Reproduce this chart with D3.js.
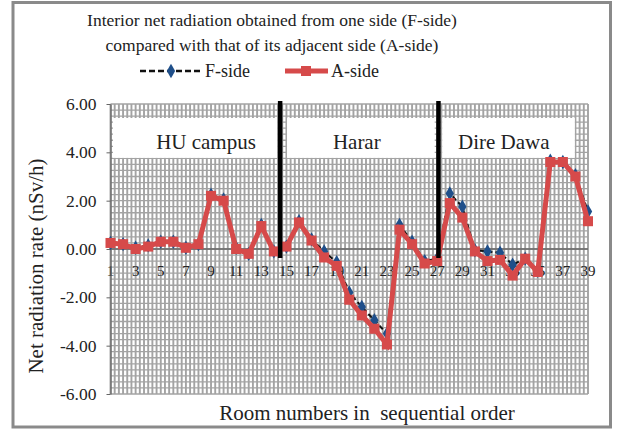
<!DOCTYPE html>
<html><head><meta charset="utf-8">
<script src="https://cdn.jsdelivr.net/npm/d3@7/dist/d3.min.js"></script>
<style>body{margin:0;background:#fff}svg{display:block}text{font-family:"Liberation Serif","Times New Roman",serif;fill:#222}</style>
</head><body><svg id="c" width="618" height="434"></svg>
<script>
// ---- data ----
const rooms = [1,2,3,4,5,6,7,8,9,10,11,12,13,14,15,16,17,18,19,20,21,22,23,24,25,26,27,28,29,30,31,32,33,34,35,36,37,38,39];
const fSide = [0.25,0.2,0.05,0.15,0.3,0.3,0.05,0.2,2.25,2.05,0.05,-0.2,1.0,-0.1,0.1,1.15,0.4,-0.1,-0.55,-1.8,-2.4,-2.95,-3.5,1.0,0.3,-0.5,-0.4,2.3,1.75,-0.05,-0.1,-0.15,-0.65,-0.4,-0.9,3.65,3.6,3.05,1.55];
const aSide = [0.25,0.2,0.0,0.1,0.3,0.3,0.05,0.2,2.2,2.0,0.0,-0.2,0.95,-0.1,0.1,1.1,0.35,-0.35,-0.7,-2.1,-2.75,-3.3,-3.95,0.8,0.2,-0.6,-0.5,1.9,1.3,-0.1,-0.5,-0.45,-1.1,-0.4,-0.95,3.6,3.6,3.0,1.15];
const yTicks = [-6,-4,-2,0,2,4,6];
const xTickLabels = [1,3,5,7,9,11,13,15,17,19,21,23,25,27,29,31,33,35,37,39];
const regions = ["HU campus","Harar","Dire Dawa"];
const seriesNames = ["F-side","A-side"];
const titleLines = ["Interior net radiation obtained from one side (F-side)","compared with that of its adjacent side (A-side)"];
const separators = [14.5, 27.1];

// ---- layout ----
const svg = d3.select("#c");
const x = d3.scaleLinear().domain([1,39]).range([110.5,588]);
const y = d3.scaleLinear().domain([-6,6]).range([394,104]);
const RED = "#d64a4a", BLUE = "#1f4f8a";

svg.append("rect").attr("x",13).attr("y",2.5).attr("width",597.5).attr("height",424.5)
  .attr("fill","#fff").attr("stroke","#8a8a8a").attr("stroke-width",3);

// grid
const g = svg.append("g");
const vLines = d3.range(0, 38*3+1).map(k => 1 + k/3);
g.selectAll("line.v").data(vLines).join("line")
  .attr("x1",d=>x(d)).attr("x2",d=>x(d)).attr("y1",y(6)).attr("y2",y(-6))
  .attr("stroke","#a3a3a3").attr("stroke-width",1.9);
const hLines = d3.range(0, 49).map(k => -6 + k*0.25);
g.selectAll("line.h").data(hLines).join("line")
  .attr("x1",x(1)).attr("x2",x(39)).attr("y1",d=>y(d)).attr("y2",d=>y(d))
  .attr("stroke","#a3a3a3").attr("stroke-width",1.3);

// region boxes
const regionLayout = [{from:1.2,to:14.25,at:8.6},{from:15.05,to:26.8,at:20.6},{from:27.4,to:37.95,at:32.3}];
regionLayout.forEach((r,i)=>{
  svg.append("rect").attr("x",x(r.from)).attr("width",x(r.to)-x(r.from))
    .attr("y",y(5.42)).attr("height",y(3.77)-y(5.42)).attr("fill","#fff");
  svg.append("text").attr("x",x(r.at)).attr("y",149).attr("text-anchor","middle")
    .attr("font-size",21).text(regions[i]);
});

// x axis line
svg.append("line").attr("x1",x(1)).attr("x2",x(39)).attr("y1",y(0)).attr("y2",y(0))
  .attr("stroke","#666").attr("stroke-width",1.3);
svg.selectAll("text.xt").data(xTickLabels).join("text")
  .attr("x",d=>x(d)).attr("y",276).attr("text-anchor","middle").attr("font-size",15).text(d=>d);

// y axis
const ya = svg.append("g").attr("transform",`translate(${x(1)},0)`)
  .call(d3.axisLeft(y).tickValues(yTicks).tickFormat(d=>d.toFixed(2)).tickSizeInner(4).tickSizeOuter(0).tickPadding(10));
ya.select(".domain").attr("stroke","#666").attr("stroke-width",1.3);
ya.selectAll(".tick line").attr("stroke","#666");
ya.selectAll(".tick text").attr("font-size",17.5).attr("font-family","Liberation Serif").attr("fill","#222");

// series F
const lineF = d3.line().x((d,i)=>x(rooms[i])).y(d=>y(d));
svg.append("path").attr("d",lineF(fSide)).attr("fill","none").attr("stroke","#111")
  .attr("stroke-width",2).attr("stroke-dasharray","5,3");
const diamond = d3.symbol().type(d3.symbolDiamond).size(60);
svg.selectAll("path.fm").data(fSide).join("path")
  .attr("d",diamond).attr("transform",(d,i)=>`translate(${x(rooms[i])},${y(d)})`).attr("fill",BLUE);

// series A
svg.append("path").attr("d",lineF(aSide)).attr("fill","none").attr("stroke",RED).attr("stroke-width",5);
svg.selectAll("rect.am").data(aSide).join("rect")
  .attr("x",(d,i)=>x(rooms[i])-5).attr("y",d=>y(d)-5).attr("width",10).attr("height",10).attr("fill",RED);

// separators
svg.selectAll("line.sep").data(separators).join("line")
  .attr("x1",d=>x(d)).attr("x2",d=>x(d)).attr("y1",101).attr("y2",258)
  .attr("stroke","#000").attr("stroke-width",4.5);

// title
titleLines.forEach((t,i)=>svg.append("text").attr("x",272).attr("y",26+i*25)
  .attr("text-anchor","middle").attr("font-size",17.5).text(t));

// legend
const ly = 71;
svg.append("line").attr("x1",140).attr("x2",202).attr("y1",ly).attr("y2",ly)
  .attr("stroke","#111").attr("stroke-width",2.5).attr("stroke-dasharray","6,3");
svg.append("path").attr("d",diamond).attr("transform",`translate(171,${ly})`).attr("fill",BLUE);
svg.append("text").attr("x",205).attr("y",ly+6).attr("font-size",18).text(seriesNames[0]);
svg.append("line").attr("x1",285).attr("x2",328).attr("y1",ly).attr("y2",ly)
  .attr("stroke",RED).attr("stroke-width",5);
svg.append("rect").attr("x",301).attr("y",ly-5).attr("width",10).attr("height",10).attr("fill",RED);
svg.append("text").attr("x",331).attr("y",ly+6).attr("font-size",18).text(seriesNames[1]);

// axis titles
svg.append("text").attr("transform","translate(43,266) rotate(-90)").attr("text-anchor","middle")
  .attr("font-size",21).text("Net radiation rate (nSv/h)");
svg.append("text").attr("x",367).attr("y",420).attr("text-anchor","middle")
  .attr("font-size",21).text("Room numbers in  sequential order").attr("xml:space","preserve").style("white-space","pre");
</script></body></html>
